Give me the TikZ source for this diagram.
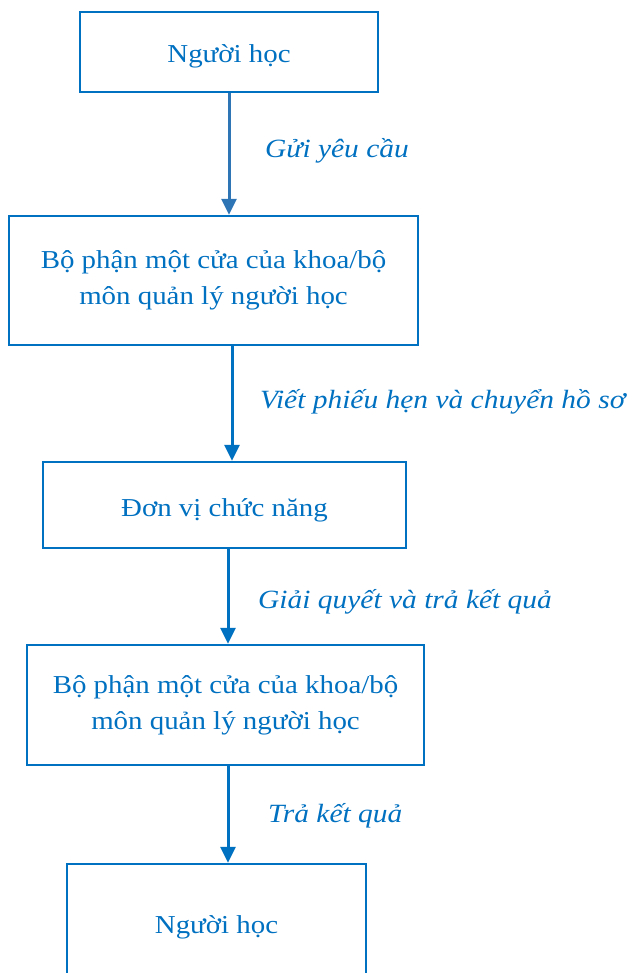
\documentclass[tikz,border=0pt]{standalone}
\usepackage{fontspec}
\setmainfont{Liberation Serif}[FakeStretch=1.12]
\usetikzlibrary{arrows.meta}
\definecolor{wblue}{HTML}{0070C0}
\definecolor{ablue}{HTML}{2E75B6}
\begin{document}
\begin{tikzpicture}[x=1pt,y=-1pt,
  box/.style={draw=wblue, line width=2.4pt, text=wblue, inner sep=0pt, align=center,
    font=\fontsize{25.8}{36}\selectfont},
  one/.style={text height=22pt, text depth=0pt},
  arr/.style={draw=wblue, line width=3pt, -{Triangle[width=15pt,length=16pt]}},
  lab/.style={text=wblue, font=\fontsize{26.3}{36}\selectfont\itshape, inner sep=0pt, anchor=base west}]
\useasboundingbox (0,0) rectangle (635,973);
\clip (0,0) rectangle (635,973);

\node[box, one, minimum width=298pt, minimum height=80pt] (b1) at (229,52) {Người học};
\node[box, minimum width=409pt, minimum height=129pt] (b2) at (213.5,280.5) {Bộ phận một cửa của khoa/bộ\\môn quản lý người học};
\node[box, one, minimum width=363pt, minimum height=86pt] (b3) at (224.5,505) {Đơn vị chức năng};
\node[box, minimum width=397pt, minimum height=120pt] (b4) at (225.5,705) {Bộ phận một cửa của khoa/bộ\\môn quản lý người học};
\node[box, one, minimum width=299pt, minimum height=116pt] (b5) at (216.5,922) {Người học};

\coordinate (x1) at (229,0);
\coordinate (x2) at (232,0);
\coordinate (x3) at (228,0);
\coordinate (x4) at (228,0);

\draw[arr, draw=ablue] (b1.south -| x1) -- (b2.north -| x1);
\draw[arr] (b2.south -| x2) -- (b3.north -| x2);
\draw[arr] (b3.south -| x3) -- (b4.north -| x3);
\draw[arr] (b4.south -| x4) -- (b5.north -| x4);

\node[lab] (l1) at (265,158) {Gửi yêu cầu};
\node[lab] (l2) at (260,408) {Viết phiếu hẹn và chuyển hồ sơ};
\node[lab] (l3) at (258,608) {Giải quyết và trả kết quả};
\node[lab] (l4) at (268,822) {Trả kết quả};
\end{tikzpicture}
\end{document}
